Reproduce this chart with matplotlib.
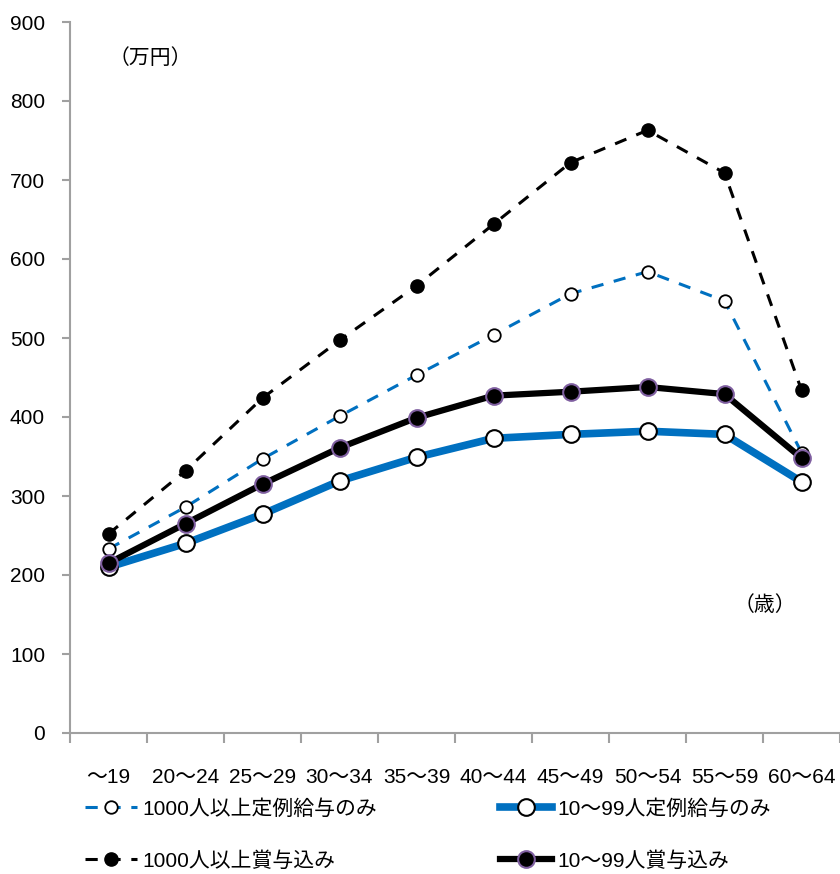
import matplotlib
matplotlib.use("Agg")
import matplotlib.pyplot as plt
from matplotlib.ticker import FixedLocator, NullFormatter

plt.rcParams['font.family'] = ['Liberation Sans', 'Noto Sans CJK JP', 'DejaVu Sans']

categories = ["～19", "20～24", "25～29", "30～34", "35～39", "40～44", "45～49", "50～54", "55～59", "60～64"]
large_regular = [233, 286, 347, 401, 453, 504, 556, 584, 547, 355]
small_regular = [210, 240, 277, 319, 349, 373, 378, 382, 378, 318]
large_bonus = [252, 332, 424, 497, 566, 644, 722, 763, 709, 434]
small_bonus = [215, 265, 315, 361, 399, 427, 432, 438, 429, 348]
labels = ["1000人以上定例給与のみ", "10～99人定例給与のみ", "1000人以上賞与込み", "10～99人賞与込み"]
y_ticks = [0, 100, 200, 300, 400, 500, 600, 700, 800, 900]

blue = "#0070C0"
x = list(range(len(categories)))

fig = plt.figure(figsize=(8.4, 8.74), dpi=100)
ax = fig.add_axes([70/840, 141/874, 1 - 70/840, (852 - 141)/874])

l1, = ax.plot(x, large_regular, color=blue, lw=2.2, ls=(0, (4, 3.5)), marker='o', ms=9,
              mfc='white', mec='black', mew=1.3, label=labels[0], zorder=3)
l2, = ax.plot(x, small_regular, color=blue, lw=5.5, marker='o', ms=12,
              mfc='white', mec='black', mew=1.5, label=labels[1], zorder=4)
l3, = ax.plot(x, large_bonus, color='black', lw=2.2, ls=(0, (4, 3.5)), marker='o', ms=9.5,
              mfc='black', mec='black', mew=1, label=labels[2], zorder=5)
l4, = ax.plot(x, small_bonus, color='black', lw=4.5, marker='o', ms=12,
              mfc='black', mec='#7f5fa0', mew=1.5, label=labels[3], zorder=6)

ax.set_xlim(-0.5, 9.5)
ax.set_ylim(0, 900)
ax.set_yticks(y_ticks)
ax.set_yticklabels([str(v) for v in y_ticks])
ax.set_xticks(x)
ax.set_xticklabels(categories)
ax.xaxis.set_minor_locator(FixedLocator([i - 0.5 for i in range(len(categories) + 1)]))
ax.xaxis.set_minor_formatter(NullFormatter())

for s in ['top', 'right']:
    ax.spines[s].set_visible(False)
for s in ['left', 'bottom']:
    ax.spines[s].set_color('#a0a0a0')
    ax.spines[s].set_linewidth(1.5)

ax.tick_params(axis='y', which='major', length=6, width=1.5, color='#a0a0a0', labelsize=15, pad=12)
ax.tick_params(axis='x', which='major', length=0, labelsize=15, pad=25)
ax.tick_params(axis='x', which='minor', length=7, width=1.5, color='#a0a0a0')

ax.text(0.54, 854, "（万円）", fontsize=15, ha='center', va='center')
ax.text(8.53, 162, "（歳）", fontsize=15, ha='center', va='center')

leg = fig.legend(handles=[l1, l3, l2, l4], labels=[labels[0], labels[2], labels[1], labels[3]],
                 ncol=2, loc='upper left', bbox_to_anchor=(85/840, 1 - 799/874),
                 frameon=False, fontsize=15, handlelength=2.5, handletextpad=0.25,
                 labelspacing=1.55, columnspacing=5.9, borderaxespad=0, borderpad=0)

fig.savefig("out.png", dpi=100)
